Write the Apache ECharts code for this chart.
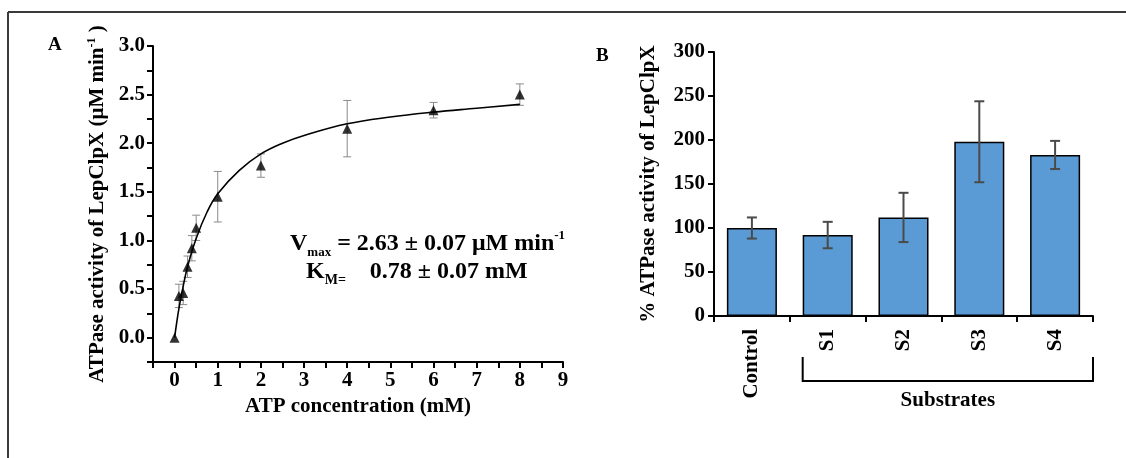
<!DOCTYPE html>
<html>
<head>
<meta charset="utf-8">
<script src="https://cdn.jsdelivr.net/npm/echarts@6/dist/echarts.min.js"></script>
<style>
  html, body { margin: 0; padding: 0; background: #fff; }
  #chart { width: 1126px; height: 458px; }
</style>
</head>
<body>
<div id="chart"></div>
<script>
  // panel A: ATP titration
  var atpConc = [0, 0.1, 0.2, 0.3, 0.4, 0.5, 1, 2, 4, 6, 8];
  var activity = [0, 0.43, 0.46, 0.73, 0.92, 1.13, 1.45, 1.77, 2.15, 2.34, 2.5];
  var activityErr = [0, 0.12, 0.12, 0.11, 0.13, 0.13, 0.26, 0.12, 0.29, 0.08, 0.11];
  // fitted curve
  var fitX = [0, 0.1, 0.2, 0.3, 0.5, 0.75, 1, 1.5, 2, 2.5, 3, 4, 5, 6, 7, 8];
  var fitY = [0, 0.3, 0.53, 0.73, 1.02, 1.29, 1.48, 1.72, 1.89, 2.0, 2.08, 2.2, 2.27, 2.32, 2.36, 2.4];

  // panel B: substrates
  var substrates = ['Control', 'S1', 'S2', 'S3', 'S4'];
  var pctActivity = [100, 92, 112, 198, 183];
  var pctErr = [12, 15, 28, 46, 16];

  var FONT = '"Liberation Serif", "Times New Roman", serif';
  var bold = { fontFamily: FONT, fontWeight: 'bold', color: '#000' };
  var FS = 21;

  var chart = echarts.init(document.getElementById('chart'));

  function errBar(color, width, cap) {
    return function (params, api) {
      var x = api.value(0);
      var lo = api.coord([x, api.value(1)]);
      var hi = api.coord([x, api.value(2)]);
      var st = { stroke: color, lineWidth: width };
      return {
        type: 'group',
        children: [
          { type: 'line', shape: { x1: lo[0], y1: lo[1], x2: hi[0], y2: hi[1] }, style: st },
          { type: 'line', shape: { x1: lo[0] - cap, y1: lo[1], x2: lo[0] + cap, y2: lo[1] }, style: st },
          { type: 'line', shape: { x1: hi[0] - cap, y1: hi[1], x2: hi[0] + cap, y2: hi[1] }, style: st }
        ]
      };
    };
  }

  var errA = [];
  for (var i = 0; i < atpConc.length; i++) {
    if (activityErr[i] > 0) errA.push([atpConc[i], activity[i] - activityErr[i], activity[i] + activityErr[i]]);
  }
  var errB = substrates.map(function (c, i) { return [i, pctActivity[i] - pctErr[i], pctActivity[i] + pctErr[i]]; });
  var fitData = fitX.map(function (x, i) { return [x, fitY[i]]; });
  var pointData = atpConc.map(function (x, i) { return [x, activity[i]]; });

  function axLine() { return { show: true, onZero: false, lineStyle: { color: '#000', width: 2 } }; }
  var axisTick = { show: true, length: 6, lineStyle: { color: '#000', width: 2 } };

  chart.setOption({
    animation: false,
    grid: [
      { left: 153, right: 563, top: 46, bottom: 96 },
      { left: 714, right: 33, top: 52, bottom: 142 }
    ],
    xAxis: [
      {
        gridIndex: 0, type: 'value', min: -0.5, max: 9, interval: 0.5,
        axisLine: axLine(), axisTick: axisTick, splitLine: { show: false },
        axisLabel: Object.assign({}, bold, {
          fontSize: FS, margin: 8,
          formatter: function (v) { return Math.abs(v - Math.round(v)) < 1e-6 && v >= 0 ? String(Math.round(v)) : ''; }
        }),
        name: 'ATP concentration (mM)', nameLocation: 'middle', nameGap: 34,
        nameTextStyle: Object.assign({}, bold, { fontSize: FS })
      },
      {
        gridIndex: 1, type: 'category', data: substrates,
        axisLine: axLine(), axisTick: axisTick,
        axisLabel: Object.assign({}, bold, { fontSize: FS, rotate: 90, margin: 13 })
      }
    ],
    yAxis: [
      {
        gridIndex: 0, type: 'value', min: -0.25, max: 3, interval: 0.25,
        axisLine: axLine(), axisTick: axisTick,
        splitLine: { show: false },
        axisLabel: Object.assign({}, bold, {
          fontSize: FS, margin: 8,
          formatter: function (v) { return Math.abs(v * 2 - Math.round(v * 2)) < 1e-6 && v >= 0 ? v.toFixed(1) : ''; }
        }),
        name: '{a|ATPase activity of LepClpX (μM min}{s|-1}{a| )}', nameLocation: 'middle', nameGap: 43,
        nameTextStyle: {
          rich: {
            a: Object.assign({}, bold, { fontSize: FS, lineHeight: 24 }),
            s: Object.assign({}, bold, { fontSize: 12, lineHeight: 12, verticalAlign: 'top' })
          }
        }
      },
      {
        gridIndex: 1, type: 'value', min: 0, max: 300, interval: 50,
        axisLine: axLine(), axisTick: axisTick,
        splitLine: { show: false },
        axisLabel: Object.assign({}, bold, { fontSize: FS, margin: 9 }),
        name: '% ATPase activity of LepClpX', nameLocation: 'middle', nameGap: 55,
        nameTextStyle: Object.assign({}, bold, { fontSize: FS })
      }
    ],
    series: [
      {
        type: 'custom', xAxisIndex: 0, yAxisIndex: 0, data: errA,
        renderItem: errBar('#8a8a8a', 1, 4), z: 1
      },
      {
        type: 'line', xAxisIndex: 0, yAxisIndex: 0, data: fitData, smooth: 0.4,
        showSymbol: false, lineStyle: { color: '#000', width: 1.6 }, z: 2
      },
      {
        type: 'scatter', xAxisIndex: 0, yAxisIndex: 0, data: pointData,
        symbol: 'triangle', symbolSize: 10, itemStyle: { color: '#000' }, z: 3
      },
      {
        type: 'bar', xAxisIndex: 1, yAxisIndex: 1, data: pctActivity, barWidth: '66%',
        itemStyle: { color: '#5b9bd5', borderColor: '#000', borderWidth: 1.5 }
      },
      {
        type: 'custom', xAxisIndex: 1, yAxisIndex: 1, data: errB,
        renderItem: errBar('#4a4a4a', 2, 5), z: 5
      }
    ]
  });

  // bracket under S1..S4
  var s1 = chart.convertToPixel({ xAxisIndex: 1 }, 'S1');
  var s4 = chart.convertToPixel({ xAxisIndex: 1 }, 'S4');
  var band = s4 - chart.convertToPixel({ xAxisIndex: 1 }, 'S3');
  var bl = s1 - band * 0.33, br = s4 + band / 2;

  chart.setOption({
    graphic: [
      { type: 'line', shape: { x1: 8, y1: 12, x2: 8, y2: 458 }, style: { stroke: '#3a3a3a', lineWidth: 2 } },
      { type: 'line', shape: { x1: 8, y1: 12, x2: 1126, y2: 12 }, style: { stroke: '#3a3a3a', lineWidth: 2 } },
      { type: 'text', x: 48, y: 36, style: Object.assign({ text: 'A', fontSize: 19 }, bold, { fill: '#000' }) },
      { type: 'text', x: 596, y: 47, style: Object.assign({ text: 'B', fontSize: 19 }, bold, { fill: '#000' }) },
      {
        type: 'text', x: 290, y: 244,
        style: {
          text: '{b|V}{s|max}{b| = 2.63 ± 0.07 μM min}{p|-1}',
          verticalAlign: 'middle', fill: '#000',
          rich: {
            b: Object.assign({}, bold, { fontSize: 24, lineHeight: 30 }),
            s: Object.assign({}, bold, { fontSize: 13, lineHeight: 12, verticalAlign: 'bottom' }),
            p: Object.assign({}, bold, { fontSize: 13, lineHeight: 16, verticalAlign: 'top' })
          }
        }
      },
      {
        type: 'text', x: 306, y: 272,
        style: {
          text: '{b|K}{s|M=}{b|    0.78 ± 0.07 mM}',
          verticalAlign: 'middle', fill: '#000',
          rich: {
            b: Object.assign({}, bold, { fontSize: 24, lineHeight: 30 }),
            s: Object.assign({}, bold, { fontSize: 14, lineHeight: 13, verticalAlign: 'bottom' })
          }
        }
      },
      {
        type: 'polyline',
        shape: { points: [[bl, 357], [bl, 381], [br, 381], [br, 357]] },
        style: { stroke: '#000', lineWidth: 2, fill: null }
      },
      {
        type: 'text', x: (bl + br) / 2, y: 401,
        style: Object.assign({ text: 'Substrates', fontSize: FS, align: 'center', verticalAlign: 'middle' }, bold, { fill: '#000' })
      }
    ]
  });
</script>
</body>
</html>
